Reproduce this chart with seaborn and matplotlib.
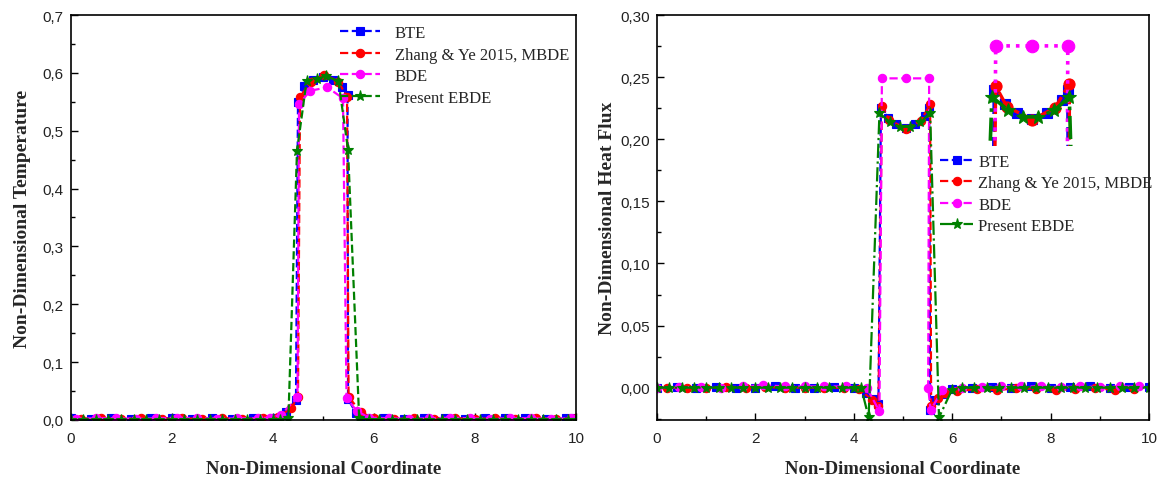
import matplotlib
matplotlib.use("Agg")
import matplotlib.pyplot as plt
import seaborn as sns
from matplotlib.ticker import MultipleLocator, FuncFormatter

# ---------------- data: left panel (temperature) ----------------
bte_T_x = [0.0, 0.4, 0.8, 1.2, 1.6, 2.0, 2.4, 2.8, 3.2, 3.6, 4.0, 4.27, 4.46, 4.5, 4.62, 4.8, 5.0, 5.2,
           5.38, 5.48, 5.49, 5.65, 5.85, 6.2, 6.6, 7.0, 7.4, 7.8, 8.2, 8.6, 9.0, 9.4, 9.8, 10.0]
bte_T_y = [0.003, 0.002, 0.003, 0.002, 0.003, 0.003, 0.002, 0.003, 0.002, 0.003, 0.004, 0.013, 0.035, 0.55,
           0.577, 0.588, 0.592, 0.588, 0.576, 0.562, 0.036, 0.012, 0.004, 0.003, 0.002, 0.003, 0.003, 0.002,
           0.003, 0.004, 0.003, 0.002, 0.003, 0.003]

zhang_T_x = [0.2, 0.6, 1.0, 1.4, 1.8, 2.2, 2.6, 3.0, 3.4, 3.8, 4.1, 4.36, 4.5, 4.54, 4.75, 5.02, 5.3, 5.47,
             5.5, 5.75, 6.0, 6.4, 6.8, 7.2, 7.6, 8.0, 8.4, 8.8, 9.2, 9.6, 10.0]
zhang_T_y = [0.002, 0.003, 0.002, 0.003, 0.002, 0.003, 0.002, 0.003, 0.002, 0.003, 0.005, 0.02, 0.04, 0.558,
             0.585, 0.597, 0.585, 0.558, 0.04, 0.013, 0.003, 0.002, 0.003, 0.002, 0.003, 0.002, 0.003, 0.002,
             0.003, 0.002, 0.003]

bde_T_x = [0.1, 0.5, 0.9, 1.3, 1.7, 2.1, 2.5, 2.9, 3.3, 3.7, 3.95, 4.16, 4.49, 4.52, 4.74, 5.08, 5.39, 5.46,
           5.66, 5.9, 6.3, 6.7, 7.1, 7.5, 7.9, 8.3, 8.7, 9.1, 9.5, 9.9]
bde_T_y = [0.002, 0.003, 0.003, 0.002, 0.003, 0.004, 0.003, 0.002, 0.003, 0.003, 0.004, 0.009, 0.039, 0.546,
           0.569, 0.575, 0.556, 0.038, 0.016, 0.004, 0.003, 0.002, 0.003, 0.004, 0.003, 0.002, 0.003, 0.003,
           0.002, 0.003]

ebde_T_x = [0.0, 0.25, 0.5, 0.75, 1.0, 1.25, 1.5, 1.75, 2.0, 2.25, 2.5, 2.75, 3.0, 3.25, 3.5, 3.75, 4.0, 4.15,
            4.31, 4.48, 4.67, 4.87, 5.05, 5.3, 5.49, 5.71, 5.9, 6.1, 6.35, 6.6, 6.85, 7.1, 7.35, 7.6, 7.85,
            8.1, 8.35, 8.6, 8.85, 9.1, 9.35, 9.6, 9.85, 10.0]
ebde_T_y = [0.0, 0.0, 0.0, 0.0, 0.0, 0.0, 0.0, 0.0, 0.0, 0.0, 0.0, 0.0, 0.0, 0.0, 0.0, 0.0, 0.0, 0.0,
            0.003, 0.465, 0.586, 0.59, 0.594, 0.586, 0.467, 0.003, 0.0, 0.0, 0.0, 0.0, 0.0, 0.0, 0.0, 0.0, 0.0,
            0.0, 0.0, 0.0, 0.0, 0.0, 0.0, 0.0, 0.0, 0.0]

# ---------------- data: right panel (heat flux) ----------------
bte_Q_x = [0.0, 0.4, 0.8, 1.2, 1.6, 2.0, 2.4, 2.8, 3.2, 3.6, 4.0, 4.25, 4.4, 4.5, 4.55, 4.7, 4.85, 5.05,
           5.25, 5.45, 5.53, 5.55, 5.65, 5.8, 6.0, 6.4, 6.8, 7.2, 7.6, 8.0, 8.4, 8.8, 9.2, 9.6, 10.0]
bte_Q_y = [0.0, 0.0005, 0.0, 0.0005, 0.0, 0.0, 0.001, 0.0, 0.0, 0.0005, 0.0, -0.004, -0.009, -0.013, 0.225,
           0.217, 0.212, 0.209, 0.212, 0.219, 0.225, -0.018, -0.01, -0.005, -0.001, 0.0, 0.0005, 0.0, 0.001,
           0.0, 0.0005, 0.001, 0.0, 0.0005, 0.0005]

zhang_Q_x = [0.2, 0.6, 1.0, 1.4, 1.8, 2.2, 2.6, 3.0, 3.4, 3.8, 4.1, 4.37, 4.5, 4.57, 4.72, 5.06, 5.36, 5.55,
             5.57, 5.7, 5.85, 6.09, 6.5, 6.9, 7.3, 7.7, 8.1, 8.5, 8.9, 9.3, 9.7]
zhang_Q_y = [0.0, 0.0, 0.0, 0.0005, 0.0, 0.0005, 0.0, 0.0, 0.0, 0.0, -0.001, -0.0097, -0.015, 0.227, 0.2155,
             0.2085, 0.215, 0.228, -0.015, -0.0085, -0.004, -0.003, -0.001, -0.002, -0.0005, -0.001, -0.002,
             -0.001, 0.0, -0.002, -0.001]

bde_Q_x = [0.0, 0.45, 0.9, 1.3, 1.75, 2.15, 2.6, 3.0, 3.4, 3.85, 4.26, 4.52, 4.57, 5.06, 5.53, 5.51, 5.56,
           5.8, 6.2, 6.6, 7.0, 7.4, 7.8, 8.2, 8.6, 9.0, 9.4, 9.8]
bde_Q_y = [0.0, 0.0005, 0.0005, 0.0, 0.001, 0.002, 0.001, 0.001, 0.001, 0.001, 0.0, -0.019, 0.249, 0.249,
           0.249, 0.0, -0.018, -0.002, 0.0, 0.0005, 0.001, 0.001, 0.001, 0.0005, 0.001, 0.0005, 0.001, 0.001]

ebde_Q_x = [0.0, 0.25, 0.5, 0.75, 1.0, 1.25, 1.5, 1.75, 2.0, 2.25, 2.5, 2.75, 3.0, 3.25, 3.5, 3.75, 4.0, 4.15,
            4.3, 4.52, 4.74, 4.94, 5.14, 5.35, 5.55, 5.73, 5.99, 6.2, 6.45, 6.7, 6.95, 7.2, 7.45, 7.7, 7.95,
            8.2, 8.45, 8.7, 8.95, 9.2, 9.45, 9.7, 10.0]
ebde_Q_y = [0.0, 0.0, 0.0, 0.0, 0.0, 0.0, 0.0, 0.0, 0.0, 0.0, 0.0, 0.0, 0.0, 0.0, 0.0, 0.0, 0.0, 0.0,
            -0.024, 0.221, 0.2135, 0.21, 0.21, 0.2135, 0.221, -0.024, -0.002, 0.0, 0.0, 0.0, 0.0, 0.0, 0.0,
            0.0, 0.0, 0.0, 0.0, 0.0, 0.0, 0.0, 0.0, 0.0, 0.0]

labels = ["BTE", "Zhang & Ye 2015, MBDE", "BDE", "Present EBDE"]
x_ticks = [0, 2, 4, 6, 8, 10]

# ---------------- style ----------------
sns.set_style("ticks")
plt.rcParams["font.family"] = ["Liberation Serif", "DejaVu Serif"]
BLUE, RED, MAG, GREEN = "#0000ff", "#ff0000", "#ff00ff", "#008000"

fig = plt.figure(figsize=(11.66, 4.85), dpi=100)
axL = fig.add_axes([0.0605, 0.132, 0.4335, 0.835])
axR = fig.add_axes([0.5635, 0.132, 0.422, 0.835])


def draw(ax, x, y, color, ls, marker, ms, label=None, lw=1.6):
    kw = dict(x=x, y=y, ax=ax, color=color, linestyle=ls, marker=marker, markersize=ms,
              markeredgecolor=color, markerfacecolor=color, markeredgewidth=0.8,
              linewidth=lw, sort=False, estimator=None, legend=False)
    if label is not None:
        kw["label"] = label
    sns.lineplot(**kw)


# left panel
draw(axL, bte_T_x, bte_T_y, BLUE, "--", "s", 5.5, labels[0])
draw(axL, zhang_T_x, zhang_T_y, RED, "--", "o", 6, labels[1])
draw(axL, bde_T_x, bde_T_y, MAG, "--", "o", 6, labels[2])
draw(axL, ebde_T_x, ebde_T_y, GREEN, "--", "*", 8, labels[3])

# right panel
draw(axR, bte_Q_x, bte_Q_y, BLUE, "--", "s", 5.5, labels[0])
draw(axR, zhang_Q_x, zhang_Q_y, RED, "--", "o", 6, labels[1])
draw(axR, bde_Q_x, bde_Q_y, MAG, "--", "o", 6, labels[2])
draw(axR, ebde_Q_x, ebde_Q_y, GREEN, "-.", "*", 8, labels[3])

for ax in (axL, axR):
    ax.set_xlim(0, 10)
    ax.set_xticks(x_ticks)
    ax.xaxis.set_minor_locator(MultipleLocator(1))
    ax.xaxis.set_major_formatter(FuncFormatter(lambda v, p: f"{v:.0f}"))
    ax.tick_params(which="both", direction="in", top=False, right=False, labelsize=11,
                   labelfontfamily="Liberation Sans", pad=5, colors="black", labelcolor="#222222")
    ax.tick_params(axis="x", which="both", pad=8)
    ax.tick_params(which="major", length=5, width=1)
    ax.tick_params(which="minor", length=3, width=1)
    for s in ax.spines.values():
        s.set_visible(True)
        s.set_linewidth(1.2)
        s.set_color("black")
    ax.set_xlabel("Non-Dimensional Coordinate", fontsize=13.5, fontweight="bold", labelpad=11)

axL.set_ylim(0, 0.7)
axL.yaxis.set_major_locator(MultipleLocator(0.1))
axL.yaxis.set_minor_locator(MultipleLocator(0.05))
axL.yaxis.set_major_formatter(FuncFormatter(lambda v, p: f"{v:.1f}".replace(".", ",")))
axL.set_ylabel("Non-Dimensional Temperature", fontsize=14, fontweight="bold", labelpad=8)

axR.set_ylim(-0.026, 0.30)
axR.yaxis.set_major_locator(MultipleLocator(0.05))
axR.yaxis.set_minor_locator(MultipleLocator(0.025))
axR.yaxis.set_major_formatter(FuncFormatter(lambda v, p: f"{v:.2f}".replace(".", ",").replace("-0,00", "0,00")))
axR.set_ylabel("Non-Dimensional Heat Flux", fontsize=14, fontweight="bold", labelpad=3)

legkw = dict(frameon=False, fontsize=12, labelspacing=0.33, borderpad=0, borderaxespad=0,
             numpoints=1, loc="upper left")
axL.legend(bbox_to_anchor=(0.533, 0.975), handlelength=2.4, handletextpad=0.9, **legkw)
axR.legend(bbox_to_anchor=(0.575, 0.658), handlelength=2.0, handletextpad=0.3, **legkw)

# inset: magnified top of the heat-flux pulse
axI = fig.add_axes([0.843, 0.697, 0.0837, 0.2326])
draw(axI, bte_Q_x, bte_Q_y, BLUE, "--", "s", 6.5, lw=2.4)
draw(axI, zhang_Q_x, zhang_Q_y, RED, "--", "o", 8, lw=2.4)
draw(axI, bde_Q_x, bde_Q_y, MAG, ":", "o", 9, lw=2.6)
draw(axI, ebde_Q_x, ebde_Q_y, GREEN, "-.", "*", 10, lw=2.6)
axI.set_xlim(4.4, 5.7)
axI.set_ylim(0.194, 0.256)
axI.set_axis_off()

fig.savefig("out.png", dpi=100)
